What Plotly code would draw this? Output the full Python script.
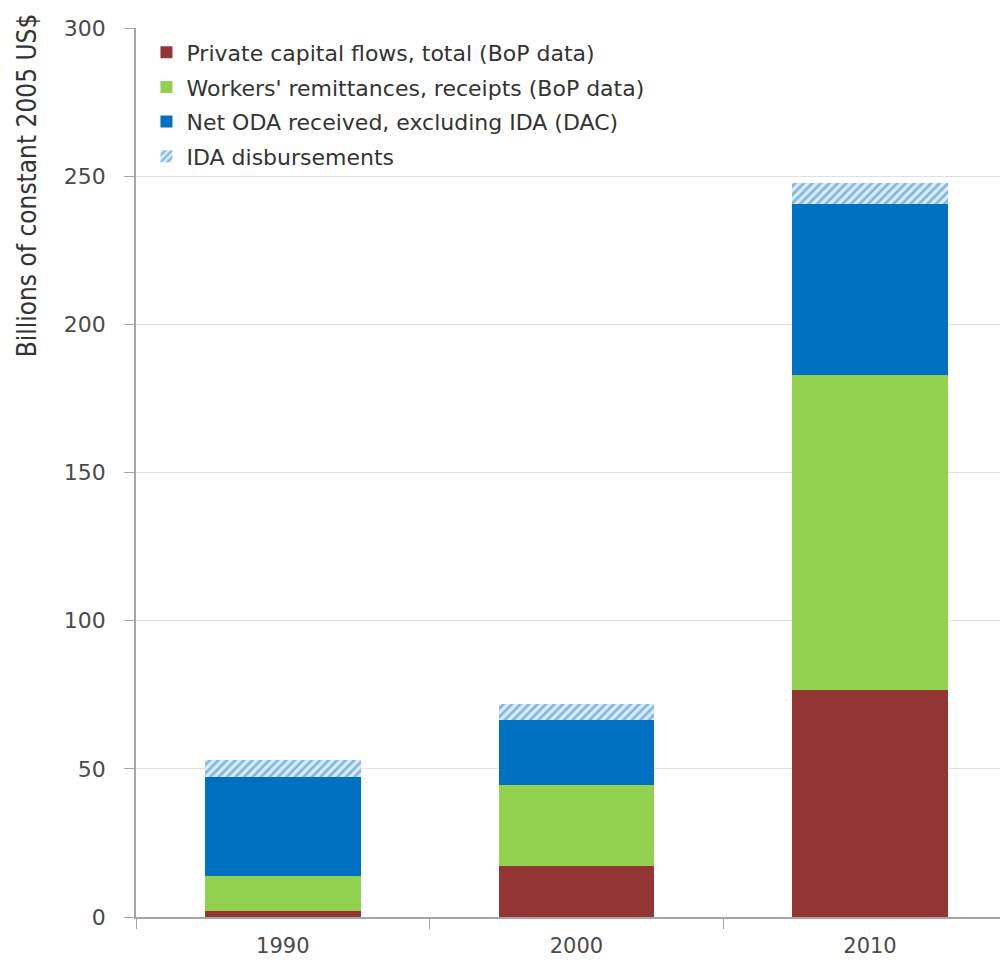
import plotly.graph_objects as go

years = ["1990", "2000", "2010"]
private_flows = [2.1, 17.2, 76.5]
remittances = [11.7, 27.3, 106.5]
net_oda = [33.4, 21.9, 57.6]
ida = [5.7, 5.4, 7.0]

names = [
    "Private capital flows, total (BoP data)",
    "Workers' remittances, receipts (BoP data)",
    "Net ODA received, excluding IDA (DAC)",
    "IDA disbursements",
]
colors = ["#943634", "#92d050", "#0070c0", "#0070c0"]
FONT = "DejaVu Sans"

fig = go.Figure()
for i, (vals, name, col) in enumerate(zip([private_flows, remittances, net_oda, ida], names, colors)):
    marker = dict(color=col, line=dict(width=0))
    if i == 3:
        marker = dict(color="#dcebf8", line=dict(width=0),
                      pattern=dict(shape="/", fgcolor="#1f7fd0", bgcolor="#dcebf8",
                                   size=6, solidity=0.45, fillmode="overlay"))
    fig.add_trace(go.Bar(x=years, y=vals, name=name, marker=marker,
                         legendgroup=f"g{i}", hoverinfo="skip"))

fig.update_layout(
    width=1000, height=956,
    barmode="stack", bargap=0.47,
    plot_bgcolor="white", paper_bgcolor="white",
    margin=dict(l=128, r=0, t=20, b=47),
    font=dict(family=FONT, size=19, color="#404040"),
    showlegend=True,
    legend=dict(x=0.012, y=0.996, xanchor="left", yanchor="top",
                traceorder="grouped", tracegroupgap=3,
                font=dict(family=FONT, size=22, color="#333333"),
                bgcolor="rgba(255,255,255,0)", itemwidth=30),
    annotations=[dict(text="Billions of constant 2005 US$", textangle=-90,
                      xref="paper", yref="paper", x=-0.125, y=0.823,
                      xanchor="center", yanchor="middle", showarrow=False,
                      font=dict(family="DejaVu Sans Condensed", size=26, color="#333333"))],
)
fig.update_xaxes(range=[-0.5, 2.47], showline=True, linecolor="#a6a6a6", linewidth=1.5,
                 ticks="outside", tickson="boundaries", ticklen=10, tickcolor="#a6a6a6",
                 ticklabelstandoff=9, automargin=False,
                 tickfont=dict(family=FONT, size=21, color="#4a4a4a"), showgrid=False)
fig.update_yaxes(range=[0, 300], dtick=50, showline=True, linecolor="#a6a6a6", linewidth=1.5,
                 ticks="outside", ticklen=10, tickcolor="#a6a6a6", ticklabelstandoff=14,
                 gridcolor="#e0e0e0", gridwidth=1, zeroline=False, automargin=False,
                 tickfont=dict(family=FONT, size=22, color="#4a4a4a"))

fig.write_html("out.html")
